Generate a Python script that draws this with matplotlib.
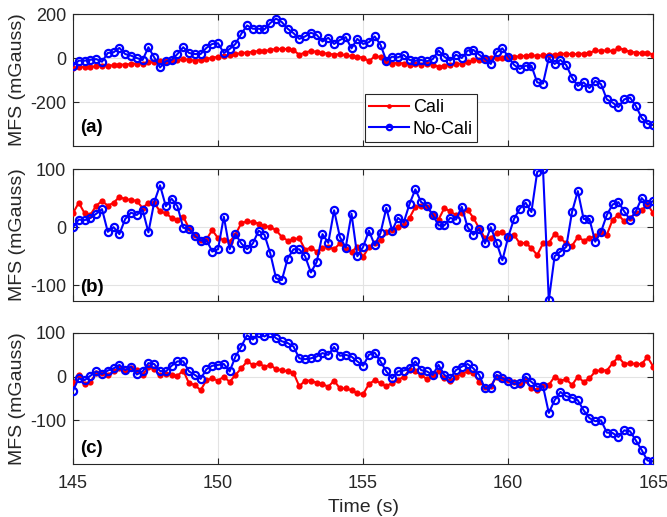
import matplotlib
matplotlib.use("Agg")
import matplotlib.pyplot as plt
import numpy as np

plt.rcParams['font.family'] = ['Liberation Sans', 'DejaVu Sans']
plt.rcParams['axes.unicode_minus'] = False

# time axis: 145 s to 165 s, one sample every 0.2 s
t = np.linspace(145, 165, 101)

# panel (a)
cali_a = [-45, -42, -40, -40, -38, -36, -35, -33, -30, -30,
          -27, -25, -26, -20, -18, -15, -15, -12, -10, -5,
          -8, -12, -8, -5, 2, 5, 8, 12, 18, 22,
          25, 28, 32, 30, 38, 40, 42, 40, 35, 15,
          25, 32, 28, 22, 20, 15, 18, 12, 8, 5,
          2, -15, 8, 5, -20, -25, -22, -25, -30, -28,
          -30, -25, -30, -40, -35, -32, -28, -25, -20, -10,
          -8, -5, -2, 0, 2, 3, 5, 8, 10, 12,
          10, 12, 15, 15, 18, 20, 17, 18, 20, 22,
          35, 32, 35, 30, 45, 38, 28, 25, 22, 25, 15]
nocali_a = [-35, -12, -12, -8, -5, -17, 23, 26, 46, 18,
            11, 0, -9, 49, 3, -43, -15, -9, 18, 49,
            23, 18, 18, 46, 64, 67, 23, 41, 64, 110,
            148, 133, 133, 130, 159, 179, 163, 133, 113, 87,
            98, 115, 105, 75, 92, 64, 82, 95, 44, 87,
            64, 72, 98, 60, -12, 6, 3, 14, -9, -12,
            -9, -15, -5, 34, 6, -12, 15, 0, 34, 37,
            15, -5, -27, 26, 44, 6, -31, -50, -35, -35,
            -111, -116, 0, -27, -9, -32, -89, -127, -111, -137,
            -104, -119, -188, -203, -223, -188, -180, -218, -272, -299, -305]

# panel (b)
cali_b = [24, 42, 24, 21, 37, 45, 37, 42, 52, 48,
          47, 45, 33, 42, 42, 27, 24, 16, 13, 18,
          -2, -13, -22, -21, -5, -19, -22, -25, -13, 7,
          10, 9, 6, 2, 0, -5, -17, -23, -21, -19,
          -39, -35, -42, -36, -34, -38, -28, -38, -42, -34,
          -51, -34, -28, -22, -9, -5, 0, 4, 16, 35,
          36, 35, 21, 13, 33, 27, 21, 24, 30, 16,
          -2, -19, -19, -10, -8, -17, -13, -28, -27, -36,
          -48, -28, -27, -12, -19, -28, -32, -17, -23, -19,
          -15, -9, -13, 13, 21, 10, 16, 24, 29, 39, 24]
nocali_b = [0, 13, 12, 16, 23, 31, -8, 0, -12, 14,
            25, 21, 30, -9, 43, 72, 36, 49, 36, -1,
            -3, -15, -23, -22, -42, -38, 18, -38, -12, -28,
            -38, -28, -6, -13, -45, -88, -91, -54, -38, -38,
            -50, -78, -60, -12, -27, 29, -17, -35, 23, -50,
            -34, -6, -31, -10, 33, -6, 16, 8, 40, 65,
            43, 37, 21, 3, 3, 16, 13, 35, 0, -13,
            -3, -28, 0, -27, -57, -17, 14, 32, 42, 26,
            95, 100, -126, -50, -42, -34, 26, 62, 14, 14,
            -25, -8, 21, 39, 43, 27, 13, 27, 50, 39, 45]

# panel (c)
cali_c = [-14, 4, -17, -12, 8, 8, 4, 12, 19, 14,
          19, 15, 4, 22, 17, 4, 5, 4, 2, 14,
          -15, -19, -31, -8, -4, -9, 0, -12, 4, 19,
          35, 27, 31, 23, 27, 17, 15, 12, 9, -22,
          -9, -9, -14, -17, -23, -9, -27, -27, -31, -38,
          -40, -17, -8, -15, -22, -14, -8, 0, 15, 12,
          4, -6, 4, 12, -4, -9, 0, 6, 12, 8,
          -12, -23, -22, 0, -6, -8, -12, -19, -8, -27,
          -31, -19, -19, 0, -9, -6, -19, 0, -12, -4,
          12, 15, 14, 31, 45, 29, 31, 29, 29, 45, 23]
nocali_c = [-32, -4, -8, 2, 12, 6, 14, 19, 27, 15,
            23, 5, 12, 31, 29, 13, 12, 25, 35, 35,
            12, 4, -5, 17, 25, 27, 29, 12, 46, 69,
            95, 85, 100, 92, 100, 88, 81, 77, 69, 42,
            40, 42, 46, 54, 50, 68, 48, 50, 46, 35,
            25, 50, 55, 35, 12, -4, 12, 14, 19, 35,
            15, 12, 4, 27, 4, -4, 15, 23, 29, 19,
            4, -27, -25, 4, -4, -9, -17, -14, 0, -12,
            -23, -22, -83, -54, -35, -45, -48, -54, -77, -95,
            -102, -100, -128, -129, -138, -123, -125, -146, -168, -192, -194]

panels = [
    ("(a)", cali_a, nocali_a, (-400, 200), [-200, 0, 200], 0.14),
    ("(b)", cali_b, nocali_b, (-127, 100), [-100, 0, 100], 0.10),
    ("(c)", cali_c, nocali_c, (-200, 100), [-100, 0, 100], 0.12),
]
bottoms = [0.7176, 0.4178, 0.1025]
heights = [0.2553, 0.2553, 0.2534]

fig = plt.figure(figsize=(6.67, 5.17), dpi=100)

for k, (lab, cali, nocali, ylim, yticks, ly) in enumerate(panels):
    ax = fig.add_axes([0.1094, bottoms[k], 0.870, heights[k]])
    ax.plot(t, cali, '-o', color='#ff0000', lw=1.5, ms=4.5, mew=0,
            label='Cali', zorder=3)
    ax.plot(t, nocali, '-o', color='#0000ff', lw=1.5, ms=5.2, mew=1.6,
            mfc='none', label='No-Cali', zorder=4)
    ax.set_xlim(145, 165)
    ax.set_ylim(*ylim)
    ax.set_xticks([145, 150, 155, 160, 165])
    ax.set_yticks(yticks)
    ax.grid(True, color='#e3e3e3', lw=0.8)
    ax.set_axisbelow(True)
    ax.tick_params(direction='in', top=True, right=True, length=4,
                   color='#262626', labelcolor='#262626', labelsize=13)
    ax.tick_params(axis='x', pad=8)
    ax.tick_params(axis='y', pad=5)
    for s in ax.spines.values():
        s.set_color('#262626')
        s.set_linewidth(0.8)
    ax.set_ylabel('MFS (mGauss)', fontsize=14, color='#262626', labelpad=3)
    ax.text(0.012, ly, lab, transform=ax.transAxes, fontsize=13.5,
            fontweight='bold', va='center', ha='left', zorder=5)
    if k < 2:
        ax.set_xticklabels([])
    else:
        ax.set_xlabel('Time (s)', fontsize=14, color='#262626', labelpad=5)
    if k == 0:
        leg = ax.legend(loc='lower left', bbox_to_anchor=(0.503, 0.03),
                        borderaxespad=0, fancybox=False, framealpha=1,
                        edgecolor='#262626', handlelength=2.2,
                        fontsize=13, borderpad=0.25, labelspacing=0.25,
                        handletextpad=0.2, markerscale=0.75)
        leg.get_frame().set_linewidth(0.8)

fig.savefig('out.png', dpi=100)
